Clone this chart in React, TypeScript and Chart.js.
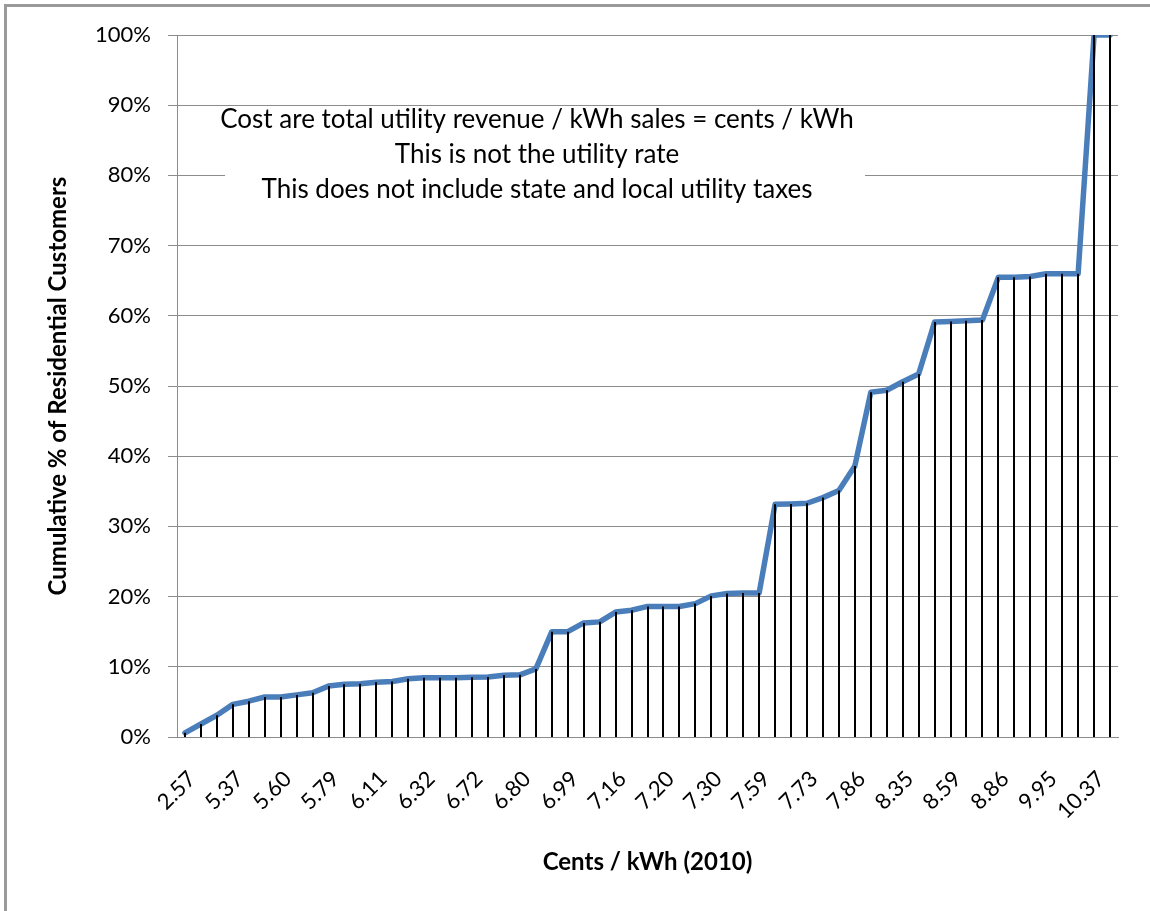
import React, { useEffect, useRef } from 'react';
import { Chart, registerables } from 'chart.js';

Chart.register(...registerables);

// Every third category carries a visible label (Cents / kWh, 2010)
const tickLabels = [
  '2.57', '5.37', '5.60', '5.79', '6.11', '6.32', '6.72', '6.80', '6.99', '7.16',
  '7.20', '7.30', '7.59', '7.73', '7.86', '8.35', '8.59', '8.86', '9.95', '10.37',
];
const labelEvery = 3;

// Cumulative % of residential customers, one value per utility (59 points)
const pctCustomers = [
  0.6, 1.85, 3.1, 4.65, 5.1, 5.7, 5.7, 6.0, 6.3, 7.25,
  7.5, 7.6, 7.8, 7.9, 8.3, 8.45, 8.45, 8.45, 8.5, 8.55,
  8.8, 8.85, 9.7, 15.0, 15.0, 16.25, 16.4, 17.8, 18.05, 18.6,
  18.6, 18.6, 19.0, 20.1, 20.45, 20.5, 20.5, 33.15, 33.2, 33.3,
  34.1, 35.1, 38.6, 49.1, 49.4, 50.6, 51.7, 59.1, 59.2, 59.3,
  59.4, 65.5, 65.5, 65.6, 66.0, 66.0, 66.0, 100, 100,
];

const annotationLines = [
  'Cost are total utility revenue / kWh sales = cents / kWh',
  'This is not the utility rate',
  'This does not include state and local utility taxes',
];

const yAxisTitle = 'Cumulative % of Residential Customers';
const xAxisTitle = 'Cents / kWh (2010)';

const categories = pctCustomers.map((_, i) =>
  i % labelEvery === 0 && tickLabels[i / labelEvery] !== undefined ? tickLabels[i / labelEvery] : ''
);

const FONT = 'Lato, "Open Sans", "DejaVu Sans", sans-serif';
const GRID = '#8c8c8c';

const dropLinesPlugin = {
  id: 'dropLines',
  afterDatasetsDraw(chart: any) {
    const meta = chart.getDatasetMeta(0);
    const { ctx, chartArea } = chart;
    ctx.save();
    ctx.strokeStyle = '#000000';
    ctx.lineWidth = 2;
    ctx.beginPath();
    meta.data.forEach((p: any) => {
      const x = Math.round(p.x);
      ctx.moveTo(x, p.y);
      ctx.lineTo(x, chartArea.bottom);
    });
    ctx.stroke();
    ctx.restore();
  },
};

const annotationPlugin = {
  id: 'textBox',
  beforeDatasetsDraw(chart: any) {
    const { ctx } = chart;
    const cx = 537;
    const firstY = 120;
    const step = 35;
    ctx.save();
    ctx.fillStyle = '#ffffff';
    ctx.fillRect(225, 107, 640, 102);
    ctx.font = `26px ${FONT}`;
    ctx.fillStyle = '#000000';
    ctx.textAlign = 'center';
    ctx.textBaseline = 'middle';
    annotationLines.forEach((t, i) => ctx.fillText(t, cx, firstY + i * step));
    ctx.restore();
  },
};

export default function App() {
  const ref = useRef<HTMLCanvasElement | null>(null);

  useEffect(() => {
    if (!ref.current) return;
    const chart = new Chart(ref.current, {
      type: 'line',
      data: {
        labels: categories,
        datasets: [
          {
            data: pctCustomers,
            borderColor: '#4A7EBB',
            backgroundColor: '#4A7EBB',
            borderWidth: 5.5,
            pointRadius: 0,
            tension: 0,
            borderJoinStyle: 'round',
            borderCapStyle: 'round',
            fill: false,
          },
        ],
      },
      options: {
        animation: false,
        responsive: false,
        devicePixelRatio: 1,
        layout: { padding: { left: 0, top: 35, right: 32, bottom: 0 } },
        plugins: {
          legend: { display: false },
          tooltip: { enabled: false },
          title: { display: false },
        },
        scales: {
          x: {
            type: 'category',
            offset: true,
            grid: { display: false, drawTicks: false },
            border: { display: true, color: GRID, width: 1 },
            ticks: {
              autoSkip: false,
              maxRotation: 45,
              minRotation: 45,
              padding: 29,
              labelOffset: 7,
              color: '#000000',
              font: { family: FONT, size: 22 },
            },
            title: {
              display: true,
              text: xAxisTitle,
              color: '#000000',
              font: { family: FONT, size: 24, weight: 'bold' },
              padding: { top: 0, bottom: 34 },
            },
            afterFit(scale: any) {
              scale.height = 174;
              scale.paddingLeft = 0;
              scale.paddingRight = 0;
            },
          },
          y: {
            min: 0,
            max: 100,
            ticks: {
              stepSize: 10,
              padding: 17,
              color: '#000000',
              font: { family: FONT, size: 22 },
              callback: (v: any) => `${v}%`,
            },
            grid: { color: GRID, lineWidth: 1, drawTicks: true, tickLength: 9, tickColor: GRID },
            border: { display: true, color: GRID, width: 1 },
            title: {
              display: true,
              text: yAxisTitle,
              color: '#000000',
              font: { family: FONT, size: 24, weight: 'bold' },
              padding: { top: 44, bottom: 0 },
            },
            afterFit(scale: any) {
              scale.width = 177;
            },
          },
        },
      },
      plugins: [annotationPlugin, dropLinesPlugin],
    });
    return () => chart.destroy();
  }, []);

  return (
    <div
      style={{
        position: 'fixed',
        left: 0,
        top: 0,
        width: 1150,
        height: 911,
        overflow: 'hidden',
        background: '#ffffff',
      }}
    >
      <canvas ref={ref} width={1150} height={911} style={{ position: 'absolute', left: 0, top: 0 }} />
      <div
        style={{
          position: 'absolute',
          left: 4,
          top: 4,
          width: 1400,
          height: 1200,
          borderLeft: '3px solid #9a9a9a',
          borderTop: '3px solid #9a9a9a',
          pointerEvents: 'none',
        }}
      />
    </div>
  );
}
